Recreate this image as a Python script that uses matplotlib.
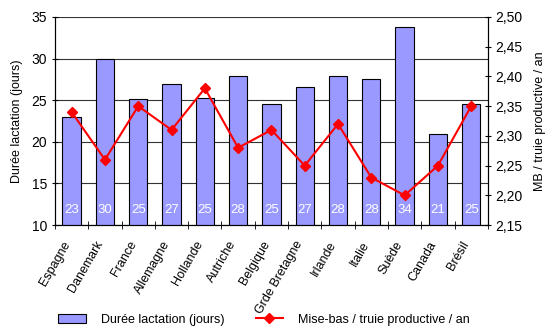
import matplotlib
matplotlib.use("Agg")
from matplotlib import pyplot as plt
from matplotlib.transforms import ScaledTranslation
import numpy as np

plt.rcParams['font.family'] = ['Liberation Sans', 'DejaVu Sans']

pays = ["Espagne", "Danemark", "France", "Allemagne", "Hollande", "Autriche",
        "Belgique", "Grde Bretagne", "Irlande", "Italie", "Suède", "Canada", "Brésil"]
duree_lactation = [23.0, 29.9, 25.1, 27.0, 25.3, 27.9, 24.5, 26.6, 27.9, 27.5, 33.8, 21.0, 24.5]
mise_bas = [2.34, 2.26, 2.35, 2.31, 2.38, 2.28, 2.31, 2.25, 2.32, 2.23, 2.20, 2.25, 2.35]

fig = plt.figure(figsize=(5.5, 3.32), dpi=100)
ax = fig.add_axes([0.1, 0.322, 0.787, 0.627])
x = np.arange(len(pays))

ax.bar(x, duree_lactation, width=0.55, color="#9999FF", edgecolor="black",
       linewidth=0.8, label="Durée lactation (jours)", zorder=2)
for xi, v in zip(x, duree_lactation):
    ax.text(xi, 11.8, str(int(v + 0.5)), color="white", ha="center", va="center",
            fontsize=9.5, zorder=3)

ax.set_ylim(10, 35)
ax.set_xlim(-0.5, len(pays) - 0.5)
ax.set_yticks([10, 15, 20, 25, 30, 35])
ax.yaxis.grid(True, color="#333333", linewidth=0.8)
ax.set_axisbelow(True)
ax.set_ylabel("Durée lactation (jours)", fontsize=9, labelpad=6)
ax.spines["top"].set_visible(False)

ax.set_xticks(x)
ax.set_xticklabels(pays, rotation=60, ha="right", rotation_mode="anchor", fontsize=9)
ax.tick_params(axis="x", which="major", length=0, pad=10)
# shift the rotated labels a little to the left, as in the original
for lbl in ax.get_xticklabels():
    lbl.set_transform(lbl.get_transform() + ScaledTranslation(-7 / 72, 0, fig.dpi_scale_trans))
ax.set_xticks(np.arange(-0.5, len(pays)), minor=True)
ax.tick_params(axis="x", which="minor", length=6, direction="inout")
ax.tick_params(axis="y", labelsize=10, length=4, direction="inout")

ax2 = ax.twinx()
ax2.plot(x, mise_bas, "-D", color="#FF0000", linewidth=1.5, markersize=5,
         label="Mise-bas / truie productive / an", zorder=4)
ax2.set_ylim(2.15, 2.50)
ticks2 = np.arange(2.15, 2.501, 0.05)
ax2.set_yticks(ticks2)
ax2.set_yticklabels([f"{t:.2f}".replace(".", ",") for t in ticks2])
ax2.tick_params(axis="y", labelsize=10, length=4, direction="inout")
ax2.set_ylabel("MB / truie productive / an", fontsize=9, labelpad=8, rotation=90)
ax2.spines["top"].set_visible(False)

h1, l1 = ax.get_legend_handles_labels()
h2, l2 = ax2.get_legend_handles_labels()
fig.legend(h1 + h2, l1 + l2, loc="lower center", bbox_to_anchor=(0.48, -0.015),
           ncol=2, frameon=False, fontsize=9, handlelength=2.2,
           handletextpad=1.2, columnspacing=2.5)

plt.savefig("out.png", dpi=100)
plt.close()
